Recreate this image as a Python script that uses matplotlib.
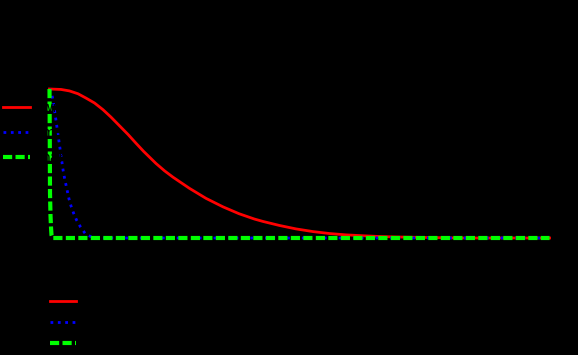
import numpy as np
import matplotlib
matplotlib.use("Agg")
import matplotlib.pyplot as plt

# curves (x in 0..10, y normalised to peak = 1)
red_x = [0.0, 0.23, 0.4, 0.57, 0.73, 0.9, 1.07, 1.23, 1.4, 1.57, 1.73, 1.88,
         2.13, 2.3, 2.47, 2.8, 3.13, 3.47, 3.79, 4.1, 4.27, 4.6, 4.93, 5.27,
         5.6, 5.93, 6.27, 6.6, 6.93, 7.27, 8.2, 10.0]
red_y = [1.0, 0.997, 0.987, 0.968, 0.939, 0.906, 0.861, 0.811, 0.753, 0.695,
         0.636, 0.582, 0.500, 0.451, 0.408, 0.333, 0.266, 0.209, 0.163,
         0.127, 0.111, 0.084, 0.061, 0.043, 0.030, 0.021, 0.015, 0.010,
         0.007, 0.005, 0.0, 0.0]

blue_x = [0.0, 0.046, 0.074, 0.094, 0.114, 0.134, 0.154, 0.174, 0.194, 0.214,
          0.234, 0.254, 0.274, 0.30, 0.33, 0.36, 0.39, 0.43, 0.48, 0.54,
          0.62, 0.72, 0.85, 1.0, 10.0]
blue_y = [1.0, 0.966, 0.919, 0.872, 0.826, 0.779, 0.732, 0.685, 0.638, 0.591,
          0.544, 0.497, 0.450, 0.403, 0.356, 0.309, 0.262, 0.215, 0.168, 0.121,
          0.074, 0.027, 0.005, 0.0, 0.0]

green_x = [0.0, 0.005, 0.01, 0.02, 0.03, 0.04, 0.06, 10.0]
green_y = [1.0, 0.7, 0.3, 0.15, 0.07, 0.02, 0.0, 0.0]

labels = ["wide", "medium", "narrow"]

fig = plt.figure(figsize=(5.78, 3.55), dpi=100, facecolor="black")
ax = fig.add_axes([0.0424, 0.3086, 0.9516, 0.4617], facecolor="black")

l1, = ax.plot(red_x, red_y, color="red", lw=2.0, label=labels[0])
l2, = ax.plot(blue_x, blue_y, color="blue", lw=2.0, ls=":", label=labels[1])
l3, = ax.plot(green_x, green_y, color="#00ff00", lw=3.0, ls=(0, (2.2, 0.8)),
              label=labels[2])

ax.set_xlim(-0.5, 10.5)
ax.set_ylim(-0.05, 1.05)
ax.axis("off")

leg1 = fig.legend(handles=[l1, l2, l3], loc="upper left",
                  bbox_to_anchor=(-0.017, 0.75), frameon=False,
                  labelspacing=0.78, labelcolor="black")
leg2 = fig.legend(handles=[l1, l2, l3], loc="upper left",
                  bbox_to_anchor=(0.065, 0.205), frameon=False,
                  handlelength=1.9, labelcolor="black")

fig.savefig("out.png", dpi=100, facecolor="black")
